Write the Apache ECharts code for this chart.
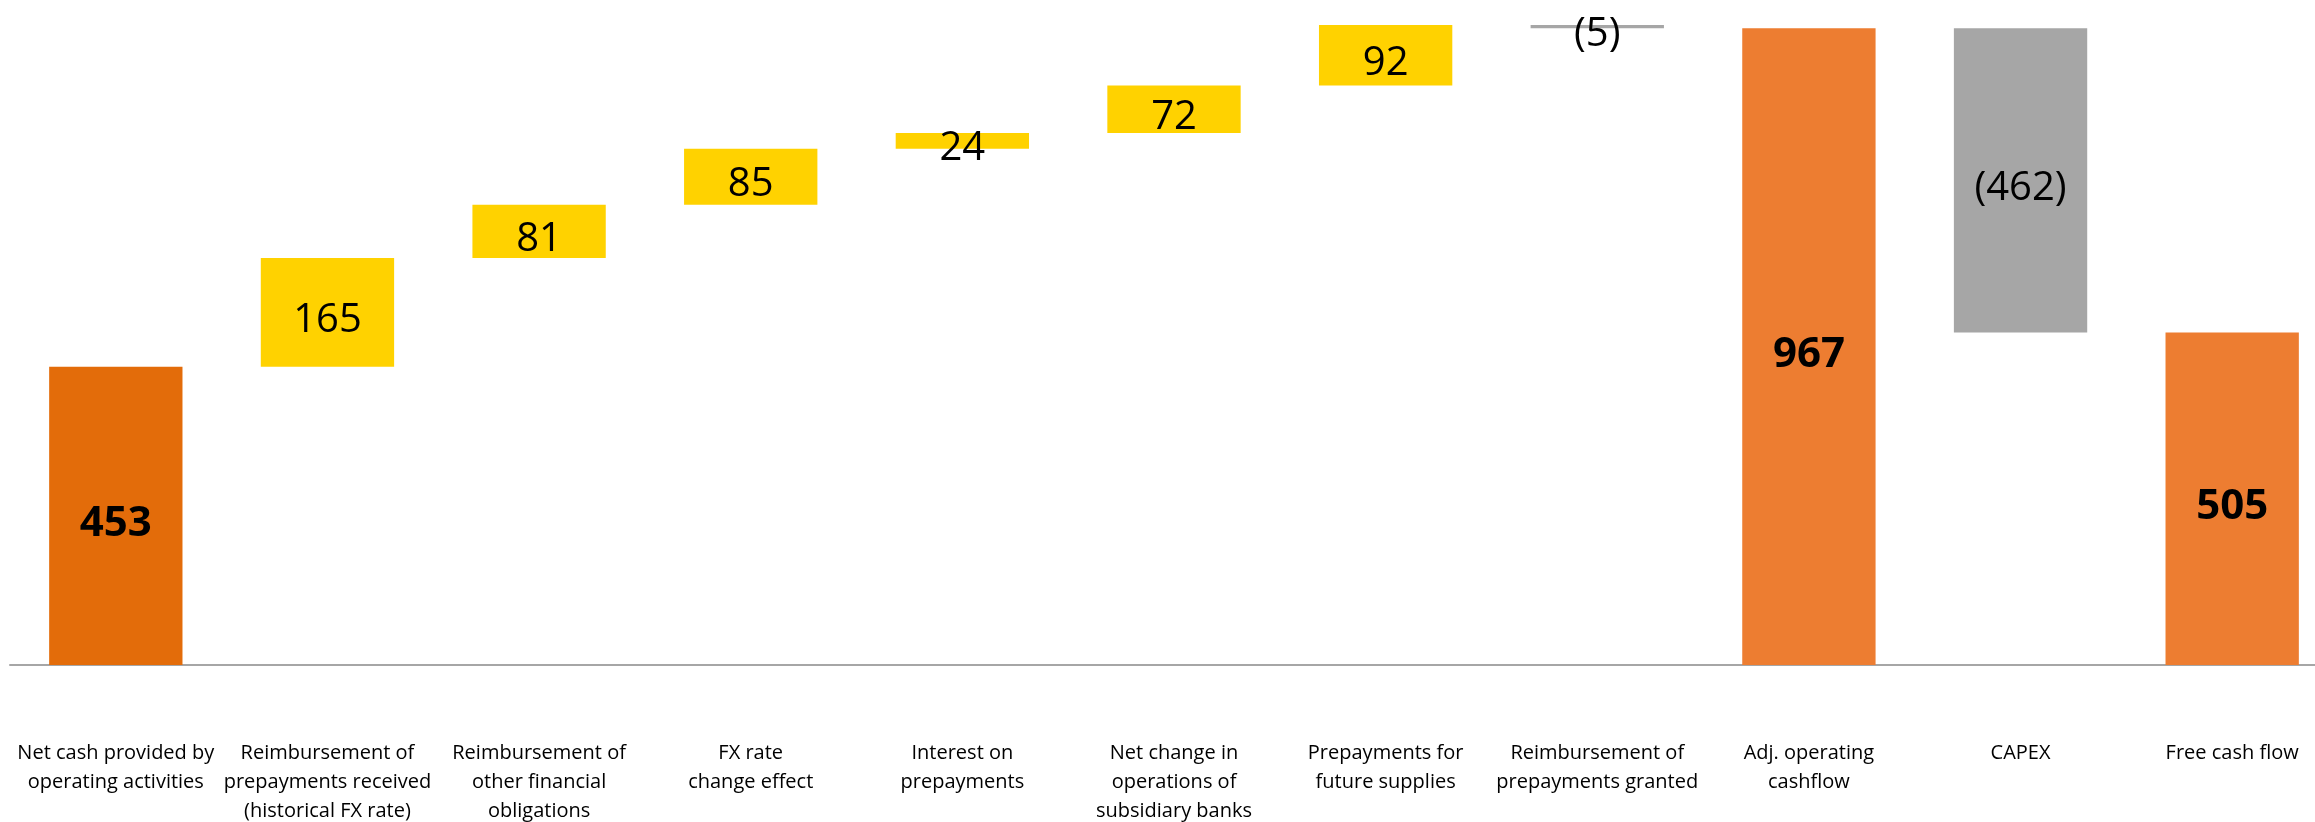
<!DOCTYPE html>
<html>
<head>
<meta charset="utf-8">
<script src="https://cdn.jsdelivr.net/npm/echarts@6/dist/echarts.min.js"></script>
<style>
  html, body { margin: 0; padding: 0; background: #fff; overflow: hidden; }
  #chart { width: 2340px; height: 822px; }
</style>
</head>
<body>
<div id="chart"></div>
<script>
const categories = [
  "Net cash provided by\noperating activities",
  "Reimbursement of\nprepayments received\n(historical FX rate)",
  "Reimbursement of\nother financial\nobligations",
  "FX rate\nchange effect",
  "Interest on\nprepayments",
  "Net change in\noperations of\nsubsidiary banks",
  "Prepayments for\nfuture supplies",
  "Reimbursement of\nprepayments granted",
  "Adj. operating\ncashflow",
  "CAPEX",
  "Free cash flow"
];
const values = [453, 165, 81, 85, 24, 72, 92, -5, 967, -462, 505];
// "total" bars start at zero, "delta" bars float on the running sum
const kinds = ["total", "delta", "delta", "delta", "delta", "delta", "delta", "delta", "total", "delta", "total"];

// build base (invisible) and visible parts of the waterfall
const baseData = [];
const barData = [];
let running = 0;
values.forEach((v, i) => {
  let base, color;
  if (kinds[i] === "total") {
    base = 0;
    running = v;
    color = i === 0 ? "#E36C0A" : "#ED7D31";
  } else {
    base = v >= 0 ? running : running + v;
    running += v;
    color = v >= 0 ? "#FFD200" : "#A6A6A6";
  }
  baseData.push(base);
  barData.push({
    value: Math.abs(v),
    itemStyle: { color: color },
    label: {
      formatter: v < 0 ? "(" + Math.abs(v) + ")" : String(v),
      fontWeight: kinds[i] === "total" ? "bold" : "normal",
      fontSize: kinds[i] === "total" ? 42 : 40
    }
  });
});

// chart is a bit wider than the window: the last category band runs past the right edge
const chart = echarts.init(document.getElementById("chart"));
chart.setOption({
  animation: false,
  grid: {
    left: 10,
    right: 2,
    top: 0,
    bottom: 157,
    outerBoundsMode: "none"
  },
  xAxis: {
    type: "category",
    data: categories,
    axisLine: {
      lineStyle: { color: "#A6A6A6", width: 2 }
    },
    axisTick: { show: false },
    axisLabel: {
      interval: 0,
      margin: 74,
      color: "#000",
      fontFamily: "Open Sans",
      fontSize: 20,
      lineHeight: 29
    }
  },
  yAxis: {
    type: "value",
    min: 0,
    max: 1010,
    show: false,
    splitLine: { show: false }
  },
  series: [
    {
      type: "bar",
      stack: "wf",
      barWidth: "63%",
      itemStyle: { color: "transparent" },
      data: baseData,
      silent: true
    },
    {
      type: "bar",
      stack: "wf",
      barWidth: "63%",
      data: barData,
      label: {
        show: true,
        position: "inside",
        offset: [0, 8],
        color: "#000",
        fontFamily: "Open Sans"
      }
    }
  ]
});
</script>
</body>
</html>
